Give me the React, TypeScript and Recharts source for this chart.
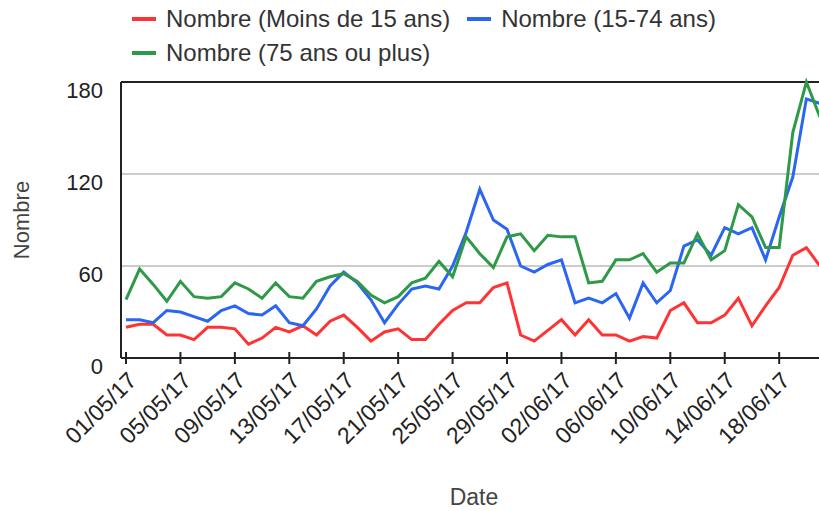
import React from "react";
import {
  LineChart,
  Line,
  XAxis,
  YAxis,
  CartesianGrid,
  ReferenceLine,
  Legend,
  Label,
} from "recharts";

const dates = [
  "01/05/17", "02/05/17", "03/05/17", "04/05/17", "05/05/17", "06/05/17", "07/05/17",
  "08/05/17", "09/05/17", "10/05/17", "11/05/17", "12/05/17", "13/05/17", "14/05/17",
  "15/05/17", "16/05/17", "17/05/17", "18/05/17", "19/05/17", "20/05/17", "21/05/17",
  "22/05/17", "23/05/17", "24/05/17", "25/05/17", "26/05/17", "27/05/17", "28/05/17",
  "29/05/17", "30/05/17", "31/05/17", "01/06/17", "02/06/17", "03/06/17", "04/06/17",
  "05/06/17", "06/06/17", "07/06/17", "08/06/17", "09/06/17", "10/06/17", "11/06/17",
  "12/06/17", "13/06/17", "14/06/17", "15/06/17", "16/06/17", "17/06/17", "18/06/17",
  "19/06/17", "20/06/17", "21/06/17",
];

const moins15 = [
  20, 22, 22, 15, 15, 12, 20, 20, 19, 9,
  13, 20, 17, 21, 15, 24, 28, 20, 11, 17,
  19, 12, 12, 22, 31, 36, 36, 46, 49, 15,
  11, 18, 25, 15, 25, 15, 15, 11, 14, 13,
  31, 36, 23, 23, 28, 39, 21, 34, 46, 67,
  72, 60,
];

const de15a74 = [
  25, 25, 23, 31, 30, 27, 24, 31, 34, 29,
  28, 34, 23, 21, 32, 47, 56, 49, 38, 23,
  35, 45, 47, 45, 60, 82, 110, 90, 84, 60,
  56, 61, 64, 36, 39, 36, 42, 26, 49, 36,
  44, 73, 77, 67, 85, 81, 85, 64, 92, 118,
  169, 166,
];

const plus75 = [
  38, 58, 48, 37, 50, 40, 39, 40, 49, 45,
  39, 49, 40, 39, 50, 53, 55, 50, 41, 36,
  40, 49, 52, 63, 53, 79, 68, 59, 79, 81,
  70, 80, 79, 79, 49, 50, 64, 64, 68, 56,
  62, 62, 81, 64, 70, 100, 92, 72, 72, 147,
  180, 157,
];

const yTicks = [0, 60, 120, 180];

const series = [
  { key: "moins15", name: "Nombre (Moins de 15 ans)", color: "#ff3333" },
  { key: "de15a74", name: "Nombre (15-74 ans)", color: "#2a66f2" },
  { key: "plus75", name: "Nombre (75 ans ou plus)", color: "#2e9a47" },
];

const data = dates.map((d, i) => ({
  date: d,
  moins15: moins15[i],
  de15a74: de15a74[i],
  plus75: plus75[i],
}));

const FONT = "'Liberation Sans', Arial, sans-serif";

function DateTick(props: any) {
  const { x, y, payload } = props;
  return (
    <g transform={`translate(${x},${y})`}>
      <line x1={0} y1={-6} x2={0} y2={6} stroke="#222" strokeWidth={2} />
      <text
        x={0}
        y={0}
        transform="translate(12,24) rotate(-45)"
        textAnchor="end"
        fontSize={23}
        fontFamily={FONT}
        fill="#222"
      >
        {payload.value}
      </text>
    </g>
  );
}

function ValueTick(props: any) {
  const { x, y, payload } = props;
  return (
    <text
      x={x}
      y={y + 16}
      textAnchor="end"
      fontSize={22}
      fontFamily={FONT}
      fill="#222"
    >
      {payload.value}
    </text>
  );
}

function LegendBox() {
  const item = (s: (typeof series)[number], mr: number) => (
    <div key={s.key} style={{ display: "flex", alignItems: "center", marginRight: mr }}>
      <div style={{ width: 24, height: 4, background: s.color, marginRight: 10 }} />
      <span>{s.name}</span>
    </div>
  );
  return (
    <div
      style={{
        fontFamily: FONT,
        fontSize: 24,
        color: "#333",
        lineHeight: "34px",
      }}
    >
      <div style={{ display: "flex" }}>
        {item(series[0], 17)}
        {item(series[1], 0)}
      </div>
      <div style={{ display: "flex" }}>{item(series[2], 0)}</div>
    </div>
  );
}

export default function App() {
  return (
    <div
      style={{
        position: "absolute",
        left: 0,
        top: 0,
        width: 819,
        height: 511,
        overflow: "hidden",
        background: "#fff",
      }}
    >
      <LineChart
        width={840}
        height={511}
        data={data}
        margin={{ top: 82, right: 20, bottom: 123, left: 0 }}
      >
        <CartesianGrid vertical={false} stroke="#cccccc" strokeWidth={2} />
        <XAxis
          dataKey="date"
          height={30}
          interval={3}
          tickSize={0}
          tickMargin={0}
          tickLine={false}
          tick={<DateTick />}
          padding={{ left: 5, right: 0 }}
          axisLine={{ stroke: "#222", strokeWidth: 2 }}
        >
          <Label
            value="Date"
            content={(p: any) => (
              <text
                x={474}
                y={505}
                textAnchor="middle"
                fontSize={23}
                fontFamily={FONT}
                fill="#444"
              >
                Date
              </text>
            )}
          />
        </XAxis>
        <YAxis
          width={121}
          domain={[0, 180]}
          ticks={yTicks}
          tickSize={0}
          tickMargin={18}
          tickLine={false}
          tick={<ValueTick />}
          axisLine={{ stroke: "#222", strokeWidth: 2 }}
        >
          <Label
            value="Nombre"
            content={(p: any) => (
              <text
                transform={`translate(29,${p.viewBox.y + p.viewBox.height / 2}) rotate(-90)`}
                textAnchor="middle"
                fontSize={22}
                fontFamily={FONT}
                fill="#444"
              >
                Nombre
              </text>
            )}
          />
        </YAxis>
        <ReferenceLine y={180} stroke="#222" strokeWidth={2} />
        <Legend
          layout="horizontal"
          verticalAlign="middle"
          content={<LegendBox />}
          wrapperStyle={{ top: 2, left: 132, width: 660 }}
        />
        {series.map((s) => (
          <Line
            key={s.key}
            type="linear"
            dataKey={s.key}
            name={s.name}
            stroke={s.color}
            strokeWidth={3}
            dot={false}
            activeDot={false}
            isAnimationActive={false}
          />
        ))}
      </LineChart>
    </div>
  );
}
